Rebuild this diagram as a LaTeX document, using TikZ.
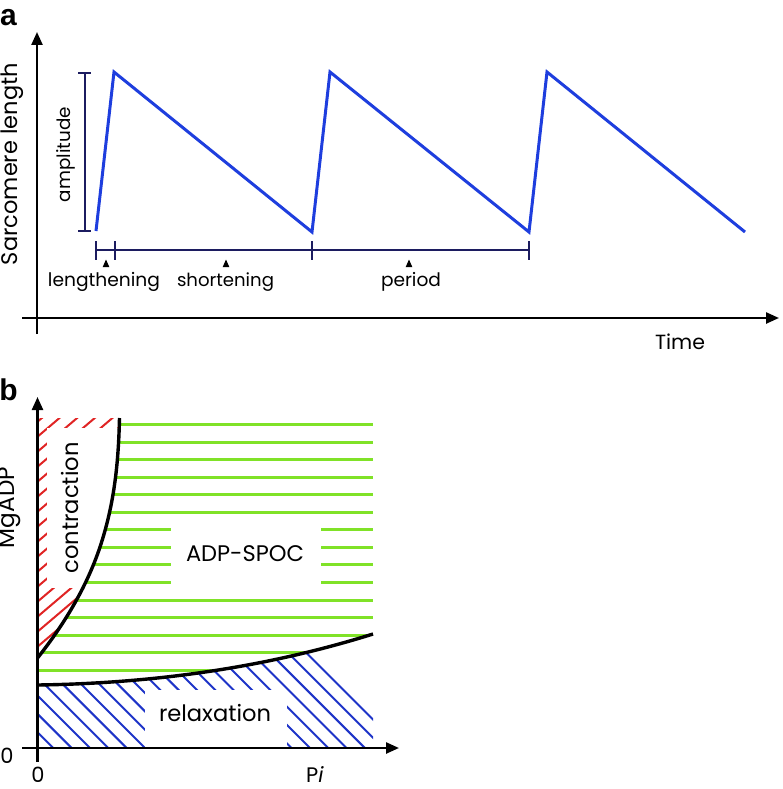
\documentclass[tikz,border=0pt]{standalone}
\usepackage{fontspec}
\setmainfont{Poppins}
\newfontfamily\boldlab{Liberation Sans}
\usetikzlibrary{arrows.meta}
\definecolor{wavec}{RGB}{30,62,222}
\definecolor{navy}{RGB}{28,28,96}
\definecolor{hgreen}{RGB}{128,226,40}
\definecolor{hred}{RGB}{224,36,36}
\definecolor{hblue}{RGB}{30,52,200}
\newcommand\fitw[2]{\resizebox{#1pt}{!}{#2}}
% contraction curve, drawn from the top down
\def\contrdown{(119.5,418) .. controls (118.5,460) and (115,502) .. (100,547) .. controls (86,589) and (62.5,626.5) .. (37.5,658)}
% relaxation curve, drawn left to right
\def\relaxright{(37.5,685) .. controls (180,683) and (290,660) .. (373,634)}
\begin{document}
\begin{tikzpicture}[x=1pt,y=-1pt,
  axisln/.style={line width=2.4pt,-{Triangle[length=13pt,width=11pt]}},
  wavestyle/.style={draw=wavec,line width=3pt,line join=miter},
  barstyle/.style={draw=navy,line width=2.2pt},
  lab/.style={inner sep=0pt,font=\fontsize{20}{20}\selectfont},
  panel/.style={inner sep=0pt,font=\boldlab\bfseries\fontsize{30}{30}\selectfont},
  greenln/.style={draw=hgreen,line width=2.6pt},
  redln/.style={draw=hred,line width=2pt},
  blueln/.style={draw=hblue,line width=2pt},
  bound/.style={draw=black,line width=3.4pt}]
\useasboundingbox (0,0) rectangle (782,789);
% ---------- panel a ----------
\node[panel] (pa) at (8.5,18) {a};
\draw[wavestyle] (96,231) -- (114,72) -- (312,232) -- (330,72) -- (529,232) -- (547,72) -- (745,232);
\draw[barstyle] (85,73) -- (85,231) (78,73) -- (91,73) (78,231) -- (91,231);
\draw[barstyle] (96,250) -- (529,250);
\foreach \x in {96,115,312,529} \draw[barstyle] (\x,241) -- (\x,260);
\foreach \x in {106,226,409} \fill (\x,259.5) -- (\x+3.3,267) -- (\x-3.3,267) -- cycle;
\draw[axisln] (37,334) -- (37,32);
\draw[axisln] (22,318) -- (779,318);
\node[lab,rotate=90] (ylab) at (12,164) {\fitw{202}{Sarcomere length}};
\node[lab,rotate=90] (amp) at (65.5,154.5) {\fitw{95}{amplitude}};
\node[lab] (len) at (104,282) {\fitw{112}{lengthening}};
\node[lab] (sho) at (225.5,282) {\fitw{97}{shortening}};
\node[lab] (per) at (411,282) {\fitw{60}{period}};
\node[lab] (time) at (680,342) {\fitw{50}{Time}};
% ---------- panel b ----------
\node[panel] (pb) at (8.5,390) {b};
% green region
\begin{scope}
  \clip (119.5,405) -- \contrdown -- \relaxright -- (373,405) -- cycle;
  \foreach \k in {0,...,14} {
    \pgfmathsetmacro\gy{round(424+17.55*\k)+0.5}
    \draw[greenln] (37.5,\gy) -- (373,\gy);
  }
  \fill[white] (171,520) rectangle (321,591);
\end{scope}
% red region
\begin{scope}
  \clip (37.5,418) -- \contrdown -- cycle;
  \foreach \j in {0,...,22} \draw[redln] (37.5,421.7+15*\j) -- (125,421.7+15*\j-74.4);
  \fill[white] (47,428) rectangle (130,588);
\end{scope}
% blue region
\begin{scope}
  \clip \relaxright -- (373,748) -- (37.5,748) -- cycle;
  \foreach \j in {-10,...,19} \draw[blueln] (53.3+18.33*\j-150,598) -- (53.3+18.33*\j,748);
  \fill[white] (145,690) rectangle (287,750);
\end{scope}
\draw[bound] \contrdown;
\draw[bound] \relaxright;
\draw[axisln] (37.5,762) -- (37.5,397);
\draw[axisln] (22,748) -- (399,748);
\node[lab,rotate=90] (mg) at (10,507.5) {\fitw{81}{MgADP}};
\node[lab,rotate=90] (con) at (70,508) {\fitw{131}{contraction}};
\node[lab] (adp) at (245,554) {\fitw{118}{ADP-SPOC}};
\node[lab] (rel) at (215,713) {\fitw{112}{relaxation}};
\node[lab,font=\fontsize{21}{21}\selectfont] (z1) at (7,756) {0};
\node[lab,font=\fontsize{21}{21}\selectfont] (z2) at (38,774.5) {0};
\node[lab,font=\fontsize{21}{21}\selectfont] (pi) at (315,774.5) {P\textit{i}};
\end{tikzpicture}
\end{document}
